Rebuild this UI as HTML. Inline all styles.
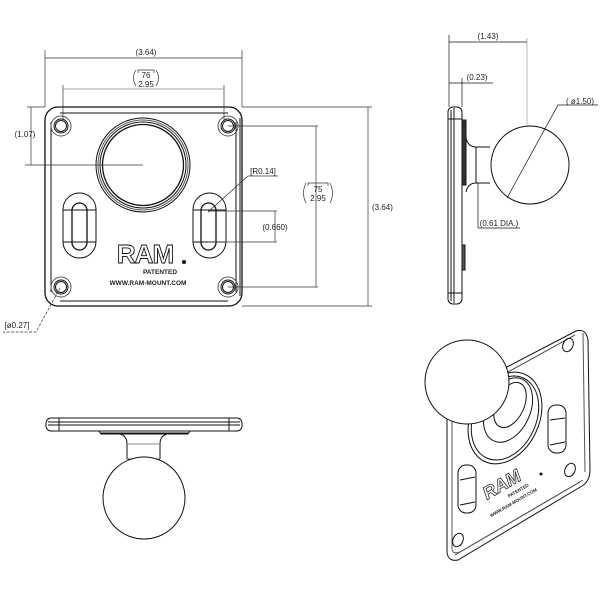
<!DOCTYPE html>
<html><head><meta charset="utf-8"><style>
html,body{margin:0;padding:0;background:#fff}
svg{display:block}
text{font-family:"Liberation Sans",sans-serif;fill:#222}
</style></head><body>
<svg width="600" height="600" viewBox="0 0 600 600" xmlns="http://www.w3.org/2000/svg">
<g fill="none" stroke="#111" stroke-width="1">
<rect x="45" y="107" width="197" height="199" rx="13" stroke-width="1.3"/>
<line x1="51" y1="122" x2="51" y2="292"/>
<line x1="236" y1="122" x2="236" y2="292" />
<line x1="240" y1="118" x2="240" y2="296"/>
<line x1="60" y1="113" x2="228" y2="113"/>
<line x1="60" y1="301" x2="228" y2="301"/>
<g>
<circle cx="61" cy="126" r="10" stroke="#555"/><circle cx="61" cy="126" r="7"/><circle cx="61" cy="126" r="5.5"/>
<circle cx="228" cy="126" r="10" stroke="#555"/><circle cx="228" cy="126" r="7"/><circle cx="228" cy="126" r="5.5"/>
<circle cx="61" cy="287" r="10" stroke="#555"/><circle cx="61" cy="287" r="7"/><circle cx="61" cy="287" r="5.5"/>
<circle cx="228" cy="287" r="10" stroke="#555"/><circle cx="228" cy="287" r="7"/><circle cx="228" cy="287" r="5.5"/>
</g>
<circle cx="143" cy="165" r="47" />
<circle cx="143" cy="165" r="45" stroke="#555"/>
<circle cx="143" cy="165" r="43"/>
<circle cx="143" cy="165" r="40.5" stroke-width="1.3"/>
<rect x="63" y="193" width="33" height="65" rx="16.5"/>
<rect x="72" y="203" width="15" height="47" rx="7.5" stroke-width="1.3"/>
<line x1="63" y1="210" x2="96" y2="210"/><line x1="63" y1="242" x2="96" y2="242"/>
<rect x="193" y="193" width="33" height="65" rx="16.5"/>
<rect x="201" y="203" width="15" height="47" rx="7.5" stroke-width="1.3"/>
<line x1="193" y1="210" x2="226" y2="210"/><line x1="193" y1="242" x2="226" y2="242"/>
</g>
<text x="145" y="263" font-size="26" font-weight="bold" text-anchor="middle" letter-spacing="-1" stroke="#111" stroke-width="0.9" style="fill:#fff">RAM</text>
<circle cx="184" cy="262" r="2" fill="#111"/>
<text x="160" y="274" font-size="6.5" font-weight="bold" text-anchor="middle">PATENTED</text>
<text x="148" y="285" font-size="6.5" font-weight="bold" text-anchor="middle">WWW.RAM-MOUNT.COM</text>

<g fill="none" stroke="#333" stroke-width="0.7">
<line x1="45" y1="50" x2="45" y2="107"/><line x1="242" y1="50" x2="242" y2="107"/>
<line x1="45" y1="58" x2="242" y2="58"/>
<line x1="63" y1="85" x2="63" y2="120"/><line x1="224" y1="85" x2="224" y2="120"/>
<line x1="63" y1="89" x2="224" y2="89" stroke="#888"/>
<line x1="31" y1="107" x2="31" y2="165"/><line x1="27" y1="107" x2="45" y2="107"/>
<line x1="25" y1="165" x2="143" y2="165"/>
<line x1="242" y1="107" x2="372" y2="107"/><line x1="242" y1="306" x2="372" y2="306"/>
<line x1="368" y1="107" x2="368" y2="306"/>
<line x1="228" y1="126" x2="318" y2="126"/><line x1="228" y1="287" x2="318" y2="287"/>
<line x1="316" y1="126" x2="316" y2="287"/>
<line x1="208" y1="211" x2="277" y2="211"/><line x1="208" y1="242" x2="277" y2="242"/>
<line x1="275" y1="211" x2="275" y2="242"/>
<polyline points="208,212 248,176 278,176"/>
<polyline points="60,288 36,332 3,332" stroke-dasharray="3,1.5"/>
<!-- parentheses -->
<path d="M136 70 Q131 78 136 86 M156 70 Q161 78 156 86"/>
<path d="M306 183 Q301 193 306 203 M330 183 Q335 193 330 203"/>
<path d="M138 73 L138 70 L154 70 L154 73 M308 186 L308 183 L328 183 L328 186"/>
</g>
<g font-size="8">
<text x="146" y="55" text-anchor="middle">(3.64)</text>
<text x="146" y="78" text-anchor="middle">76</text>
<text x="146" y="87" text-anchor="middle">2.95</text>
<text x="25" y="137" text-anchor="middle">(1.07)</text>
<text x="263" y="174" text-anchor="middle">[R0.14]</text>
<text x="275" y="230" text-anchor="middle">(0.660)</text>
<text x="318" y="192" text-anchor="middle">75</text>
<text x="318" y="201" text-anchor="middle">2.95</text>
<text x="372" y="210">(3.64)</text>
<text x="17" y="328" text-anchor="middle">[ø0.27]</text>
</g>

<g fill="none" stroke="#111" stroke-width="1">
<rect x="448" y="107" width="14" height="197" rx="5"/>
<line x1="451" y1="110" x2="451" y2="301"/><line x1="454" y1="108" x2="454" y2="303"/>
<line x1="448" y1="119" x2="462" y2="119"/><line x1="448" y1="293" x2="462" y2="293"/>
<rect x="462" y="120" width="4" height="65" fill="#333"/>
<rect x="462" y="245" width="3" height="25" fill="#555"/>
<path d="M466 138 Q468 147 476 147 L490 147 M466 192 Q468 183 476 183 L490 183"/>
<line x1="476" y1="147" x2="476" y2="183"/>
<circle cx="530" cy="165" r="39"/>
<line x1="449" y1="35" x2="449" y2="107" stroke-width="0.7"/>
<line x1="527" y1="38" x2="527" y2="125" stroke-width="0.6" stroke="#888"/>
<line x1="449" y1="42" x2="527" y2="42" stroke-width="0.7"/>
<line x1="462" y1="78" x2="462" y2="107" stroke-width="0.7"/>
<line x1="449" y1="83" x2="493" y2="83" stroke-width="0.7"/>
<polyline points="507,198 558,105 598,105" stroke-width="0.7"/>
<line x1="478" y1="183" x2="478" y2="228" stroke-width="0.7"/>
<line x1="478" y1="228" x2="520" y2="228" stroke-width="0.7"/>
</g>
<g font-size="8">
<text x="488" y="39" text-anchor="middle">(1.43)</text>
<text x="477" y="80" text-anchor="middle">(0.23)</text>
<text x="580" y="104" text-anchor="middle">( ø1.50)</text>
<text x="499" y="226" text-anchor="middle">(0.61 DIA.)</text>
</g>

<g fill="none" stroke="#111" stroke-width="1">
<rect x="46" y="418" width="196" height="13" rx="5"/>
<line x1="48" y1="422" x2="240" y2="422"/><line x1="48" y1="425" x2="240" y2="425"/>
<line x1="59" y1="418" x2="59" y2="431"/><line x1="229" y1="418" x2="229" y2="431"/>
<path d="M99 431 L101 434 L188 434 L190 431" />
<line x1="100" y1="433" x2="189" y2="433"/>
<path d="M120 434 Q127 436 127 444 L127 459 M167 434 Q160 436 160 444 L160 459"/>
<line x1="127" y1="459" x2="160" y2="459" stroke="#666"/>
<line x1="127" y1="444" x2="160" y2="444" stroke="#888"/>
<circle cx="144" cy="498" r="41" fill="#fff"/>
</g>

<g fill="none" stroke="#111" stroke-width="1">
<path d="M447 410 L447 552 Q448 562 458 560 L582 486 Q590 481 590 470 L588 340 Q586 328 576 331 L505 368"/>
<path d="M452 420 L452 548 Q452 555 460 552 L580 482" stroke="#555"/>
<path d="M455 555 L583 480" stroke="#555"/>
<path d="M583 333 L585 472" stroke="#555"/>
<path d="M508 372 L575 335" stroke="#555"/>
<ellipse cx="568" cy="345" rx="5" ry="7" transform="rotate(25 568 345)"/>
<ellipse cx="570" cy="470" rx="5" ry="7" transform="rotate(25 570 470)"/>
<ellipse cx="458" cy="540" rx="5" ry="7" transform="rotate(25 458 540)"/>
<ellipse cx="505" cy="418" rx="34" ry="48" transform="rotate(25 505 418)"/>
<ellipse cx="505" cy="418" rx="31" ry="44" transform="rotate(25 505 418)"/>
<ellipse cx="508" cy="410" rx="22" ry="34" transform="rotate(25 508 410)"/>
<ellipse cx="510" cy="405" rx="14" ry="24" transform="rotate(25 510 405)"/>
<rect x="548" y="405" width="18" height="48" rx="8"/>
<path d="M550 420 L565 418 M550 445 L565 442"/>
<rect x="458" y="465" width="18" height="48" rx="8"/>
<path d="M460 480 L475 477 M460 505 L475 502"/>
<circle cx="467" cy="382" r="42" fill="#fff"/>
</g>
<g transform="translate(487,500) rotate(-30)">
<text x="0" y="0" font-size="18" font-weight="bold" font-style="italic" stroke="#111" stroke-width="0.7" style="fill:#fff">RAM</text>
<text x="20" y="9" font-size="4.5" font-weight="bold">PATENTED</text>
<text x="-5" y="17" font-size="4.5" font-weight="bold">WWW.RAM-MOUNT.COM</text>
</g>
<circle cx="541" cy="474" r="1.5" fill="#111"/>
</svg>
</body></html>
